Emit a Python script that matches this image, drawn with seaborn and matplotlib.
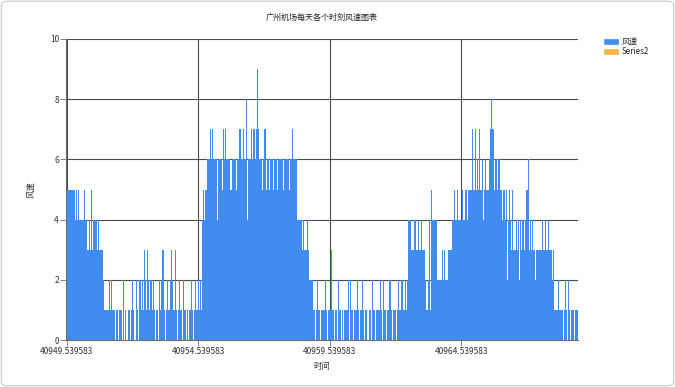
import numpy as np
import pandas as pd
import matplotlib
matplotlib.use("Agg")
import matplotlib.pyplot as plt
from matplotlib.patches import Patch, FancyBboxPatch
import seaborn as sns

# hourly wind speed readings (one digit per hour)
speed_a = ("6555555545" "4544445443" "3435344434" "33332"
           "1111212111" "0101110201" "001012100210"
           "2121321321212" "10110212310121123213"
           "1012110210101121012")
speed_b = ("121214545"
           "5667676666" "4666576766" "6656666566" "7767668466" "6767679766" "656"
           "7566566656" "6566666566" "6656676666"
           "4444343334" "3222110121" "101112101")
speed_c = ("1131011021" "1010111202" "1101121011" "2101101102"
           "1101112102" "1101121011" "1012112112124"
           "4433443343" "3433211241" "5444422222" "3232233334"
           "45445444544")
speed_d = ("5545557557" "5657564565" "55678756656655"
           "4545245435" "3343424344" "34563"
           "4343323333" "3433433433231"
           "111211101210210110111")

start_day = 40949.539583          # OLE date of the first reading
tick_days = [40949.539583, 40954.539583, 40959.539583, 40964.539583]
title = "广州机场每天各个时刻风速图表"

speed = [int(c) for c in speed_a + speed_b + speed_c + speed_d]
df = pd.DataFrame({"time": start_day + np.arange(len(speed)) / 24.0,
                   "speed": speed})

sns.set_style("white")
plt.rcParams["font.family"] = ["Noto Sans CJK SC", "DejaVu Sans"]

fig = plt.figure(figsize=(6.75, 3.87), dpi=100)
ax = fig.add_axes([66 / 675, 1 - 340 / 387, 512 / 675, 301 / 387])

sns.barplot(data=df, x="time", y="speed", native_scale=True, width=1.0,
            color="#418CF0", saturation=1, linewidth=0, errorbar=None, ax=ax)

ax.set_xlim(df["time"].iloc[0] - 1 / 48, df["time"].iloc[-1] + 1 / 48)
ax.set_ylim(0, 10)
ax.set_xticks(tick_days)
ax.set_xticklabels(["%.6f" % d for d in tick_days])
ax.set_yticks(range(0, 11, 2))
ax.set_axisbelow(True)
ax.grid(True, color="#4a4a4a", linewidth=0.8)

for s in ["top", "right"]:
    ax.spines[s].set_visible(False)
for s in ["left", "bottom"]:
    ax.spines[s].set_color("#6e6e6e")
    ax.spines[s].set_linewidth(0.8)

ax.tick_params(axis="both", labelsize=6, colors="#333333", length=4,
               width=0.6, direction="out", pad=1, bottom=True, left=True)
ax.tick_params(axis="both", color="#6e6e6e")

ax.set_xlabel("时间", fontsize=6, color="#333333", labelpad=4)
ax.set_ylabel("风速", fontsize=6, color="#333333", labelpad=10)
ax.set_title(title, fontsize=5.8, color="#222222", pad=14)

handles = [Patch(facecolor="#418CF0", label="风速"),
           Patch(facecolor="#FCB441", label="Series2")]
fig.legend(handles=handles, loc="upper left", bbox_to_anchor=(600 / 675, 1 - 34 / 387),
           frameon=False, fontsize=5.8, handlelength=1.9, handleheight=0.9,
           handletextpad=0.4, labelspacing=0.15, borderaxespad=0)

# thin light frame round the whole picture
fig.patches.append(FancyBboxPatch((0.002, 0.003), 0.996, 0.994,
                                  boxstyle="round,pad=0,rounding_size=0.01",
                                  transform=fig.transFigure, fill=False,
                                  edgecolor="#c8c8c8", linewidth=0.8))

fig.savefig("out.png", dpi=100, facecolor="white")
